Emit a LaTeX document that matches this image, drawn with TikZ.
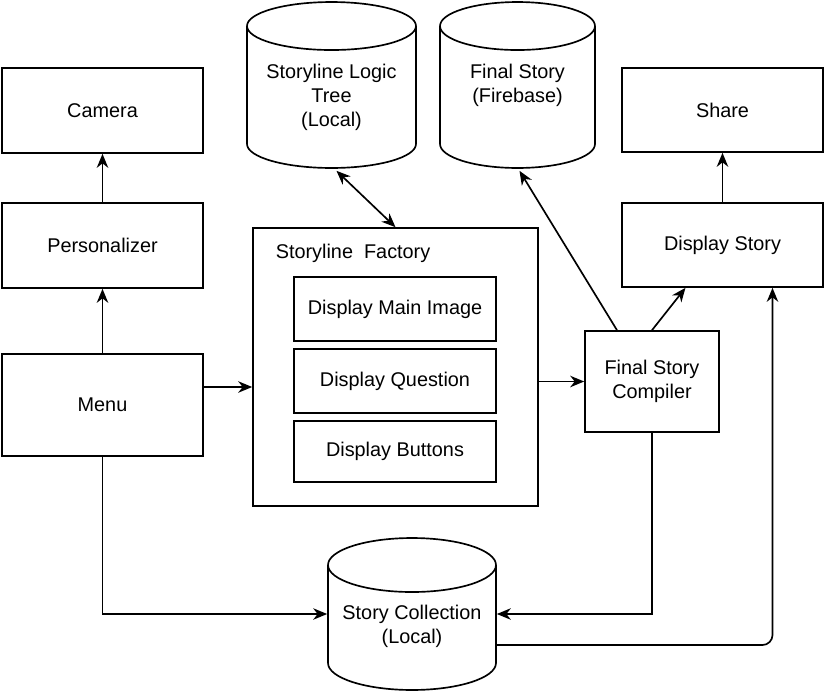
\documentclass[tikz,border=0pt]{standalone}
\usepackage{fontspec}
\setmainfont{Liberation Sans}
\usetikzlibrary{shapes.geometric, arrows.meta, calc}

\begin{document}
\begin{tikzpicture}[x=0.02cm, y=-0.02cm, line width=0.95pt,
        font=\fontsize{11.3}{13.7}\selectfont,
        caja/.style={draw, rectangle, align=center, inner sep=0pt},
        cilindro/.style={draw, cylinder, shape border rotate=90, aspect=1, inner sep=0pt, text width=0.96cm, anchor=shape center},
        flecha/.style={-{Stealth[length=2.8mm, width=2.3mm, inset=0.9mm]}}]

        \useasboundingbox (0,0) rectangle (826,694);

        % Columna izquierda
        \node[caja, minimum width=4.02cm, minimum height=1.7cm] (camera) at (102.5,110.5) {Camera};
        \node[caja, minimum width=4.02cm, minimum height=1.7cm] (personalizer) at (102.5,245.5) {Personalizer};
        \node[caja, minimum width=4.02cm, minimum height=2.04cm] (menu) at (102.5,405) {Menu};

        % Bases de datos
        \node[cilindro, minimum width=3.38cm, minimum height=3.32cm] (logic) at (331.5,85) {};
        \node[align=center] (logictext) at (331.5,97.5) {Storyline Logic\\Tree\\(Local)};
        \node[cilindro, minimum width=3.1cm, minimum height=3.32cm] (firebase) at (517.5,85) {};
        \node[align=center] (firebasetext) at (517.5,85) {Final Story\\(Firebase)};
        \node[cilindro, text width=1.08cm, minimum width=3.36cm, minimum height=3.04cm] (collection) at (412,614) {};
        \node[align=center] (collectiontext) at (412,626) {Story Collection\\(Local)};

        % Storyline Factory y sus partes
        \node[caja, minimum width=5.7cm, minimum height=5.56cm] (factory) at (395.5,367) {};
        \node[anchor=west, inner sep=0pt] (factorytitle) at (275,253) {Storyline\ \ Factory};
        \node[caja, minimum width=4.04cm, minimum height=1.28cm] (mainimage) at (395,309) {Display Main Image};
        \node[caja, minimum width=4.04cm, minimum height=1.28cm] (question) at (395,381) {Display Question};
        \node[caja, minimum width=4.04cm, minimum height=1.22cm] (buttons) at (395,451.5) {Display Buttons};

        % Columna derecha
        \node[caja, minimum width=4.02cm, minimum height=1.68cm] (share) at (722.5,110) {Share};
        \node[caja, minimum width=4.02cm, minimum height=1.68cm] (display) at (722.5,245) {Display Story};
        \node[caja, minimum width=2.68cm, minimum height=2.02cm] (compiler) at (652,381.5) {Final Story\\Compiler};

        % Flechas
        \draw[flecha] (personalizer) -- (camera);
        \draw[flecha] (menu) -- (personalizer);
        \draw[flecha] (menu.east |- 0,387) -- (factory.west |- 0,387);
        \draw[flecha] (factory.east |- compiler.west) -- (compiler.west);
        \draw[{Stealth[length=2.8mm, width=2.3mm, inset=0.9mm]}-{Stealth[length=2.8mm, width=2.3mm, inset=0.9mm]}]
            ($(logic.south)+(5,2)$) -- (factory.north);
        \draw[flecha] ($(compiler.north)+(-35,0)$) -- ($(firebase.south)+(2,2)$);
        \draw[flecha] (compiler.north) -- ($(display.south)+(-37,0)$);
        \draw[flecha] (display) -- (share);
        \draw[flecha] (compiler.south) |- (collection.east |- 0,614);
        \draw[flecha] (menu.south) |- (collection.west |- 0,614);
        \draw[flecha, rounded corners=0.2cm] (collection.east |- 0,645) -| ($(display.south)+(50,0)$);
    \end{tikzpicture}
\end{document}
